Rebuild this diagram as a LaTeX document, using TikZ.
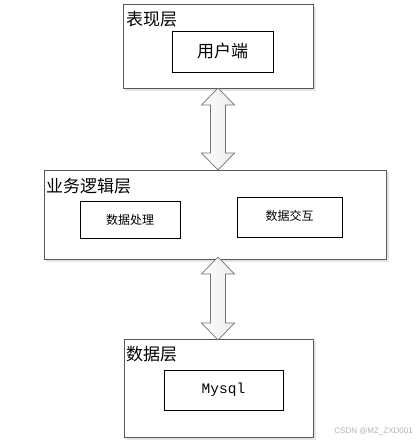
\documentclass[tikz,border=0pt]{standalone}
\usepackage{fontspec}
\newfontfamily\cjk{Noto Sans CJK SC}
\setmonofont{Liberation Mono}
\newfontfamily\wm{Liberation Sans}
\usetikzlibrary{positioning,calc}
\begin{document}
\begin{tikzpicture}[x=1pt,y=-1pt,
  layer/.style={draw=black!65,line width=1.0pt,fill=white},
  shadowbox/.style={fill=black!10,draw=none},
  inner/.style={draw=black,line width=0.8pt,fill=white},
  title/.style={font=\cjk\fontsize{17}{17}\selectfont,anchor=west,inner sep=0pt},
  lbl/.style={font=\cjk\fontsize{12}{12}\selectfont,inner sep=0pt},
  darrow/.style={draw=black!55,line width=0.7pt,top color=white,bottom color=black!8,shading angle=90}]
\useasboundingbox (0,0) rectangle (416,444);
% shadows
\fill[shadowbox] (125,7) rectangle (316,91);
\fill[shadowbox] (46,172) rectangle (389,262);
\fill[shadowbox] (126,341) rectangle (316,440);
% outer layers
\draw[layer] (123,5) rectangle (313,88);
\draw[layer] (44,170) rectangle (386,259);
\draw[layer] (124,339) rectangle (313,437);
\node[title] (t1) at (126,19.5) {表现层};
\node[title] (t2) at (46,186) {业务逻辑层};
\node[title] (t3) at (126,354) {数据层};
% inner boxes
\draw[inner] (172,31) rectangle (273,72);
\node[font=\cjk\fontsize{17}{17}\selectfont,inner sep=0pt] (client) at (222.5,51.5) {用户端};
\draw[inner] (80,201) rectangle (180,238);
\node[lbl] (proc) at (130,219.5) {数据处理};
\draw[inner] (237,197) rectangle (342,237);
\node[lbl] (inter) at (289.5,216) {数据交互};
\draw[inner] (164,370) rectangle (283,410);
\node[font=\ttfamily\fontsize{14.5}{14.5}\selectfont,inner sep=0pt] (db) at (223.5,390) {Mysql};
% double arrows
\foreach \a/\b in {88/170,257/340}{
  \draw[darrow] (218,\a) -- (234.5,\a+17) -- (225.5,\a+17) -- (225.5,\b-17) -- (234.5,\b-17)
     -- (218,\b) -- (201.5,\b-17) -- (210.5,\b-17) -- (210.5,\a+17) -- (201.5,\a+17) -- cycle;
}
\node[font=\wm\fontsize{8}{8}\selectfont,text=black!30,anchor=east,inner sep=0pt] (wmk) at (413,431) {CSDN @MZ\_ZXD001};
\end{tikzpicture}
\end{document}
